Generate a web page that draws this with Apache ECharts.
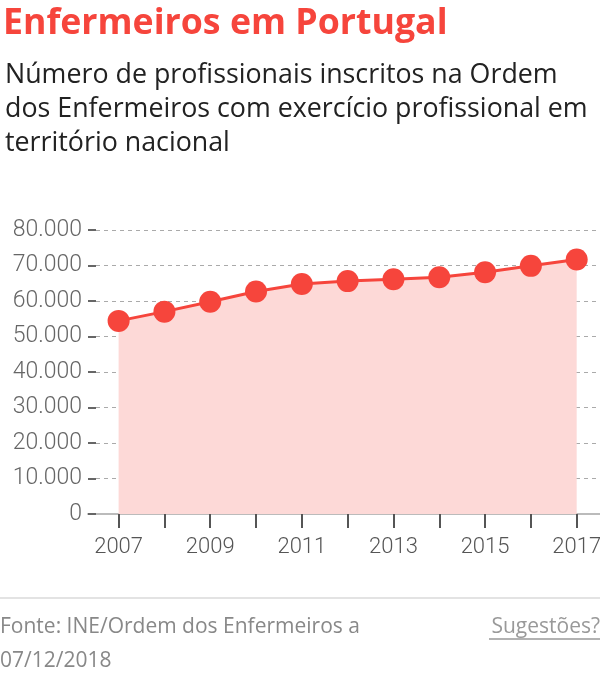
<!DOCTYPE html>
<html>
<head>
<meta charset="utf-8">
<script src="https://cdn.jsdelivr.net/npm/echarts@6/dist/echarts.min.js"></script>
<style>
html,body{margin:0;padding:0;background:#fff;}
#chart{width:600px;height:682px;}
</style>
</head>
<body>
<div id="chart"></div>
<script>
var years = [2007, 2008, 2009, 2010, 2011, 2012, 2013, 2014, 2015, 2016, 2017];
var nurses = [54400, 57000, 59800, 62700, 64800, 65600, 66100, 66700, 68100, 69900, 71700];
var yearLabels = [2007, 2009, 2011, 2013, 2015, 2017];

var titleText = 'Enfermeiros em Portugal';
var subtitleText = 'Número de profissionais inscritos na Ordem\ndos Enfermeiros com exercício profissional em\nterritório nacional';
var sourceText = 'Fonte: INE/Ordem dos Enfermeiros a\n07/12/2018';
var linkText = 'Sugestões?';

var RED = '#f6453c';
var chart = echarts.init(document.getElementById('chart'));
var fmt = function (v) {
  return String(v).replace(/\B(?=(\d{3})+(?!\d))/g, '.');
};
chart.setOption({
  animation: false,
  textStyle: { fontFamily: 'Roboto' },
  title: [
    { text: titleText, left: -2, top: 1,
      textStyle: { color: RED, fontSize: 35.7, fontWeight: 'bold', fontFamily: 'Open Sans' } },
    { text: subtitleText, left: 0, top: 53,
      textStyle: { color: '#222', fontSize: 26.8, fontWeight: 'normal', lineHeight: 34, fontFamily: 'Open Sans' } }
  ],
  grid: { left: 88, right: 0, top: 230, bottom: 168, containLabel: false, outerBoundsMode: 'none' },
  xAxis: {
    type: 'value',
    min: 2006.332,
    max: 2017.509,
    axisLine: { show: true, lineStyle: { color: '#bbb', width: 2 } },
    axisTick: { show: true, length: 14, lineStyle: { color: '#555', width: 2 }, customValues: years },
    axisLabel: { customValues: yearLabels, margin: 22, fontSize: 22, color: '#555', fontWeight: 300,
      formatter: function (v) { return String(v); } },
    splitLine: { show: false }
  },
  yAxis: {
    type: 'value',
    min: 0, max: 80000, interval: 10000,
    axisLine: { show: false },
    axisTick: { show: true, inside: true, length: 8, lineStyle: { color: '#666', width: 2 } },
    axisLabel: { margin: 6, fontSize: 23, color: '#666', fontWeight: 300, formatter: fmt },
    splitLine: { show: true, lineStyle: { color: '#aaa', type: [4, 4], width: 1 } }
  },
  series: [{
    type: 'line',
    data: years.map(function (y, i) { return [y, nurses[i]]; }),
    symbol: 'circle',
    symbolSize: 22,
    itemStyle: { color: RED },
    lineStyle: { color: RED, width: 3 },
    areaStyle: { color: '#fdd9d7', opacity: 1 },
    z: 3
  }],
  graphic: [
    { type: 'line', shape: { x1: 0, y1: 598, x2: 600, y2: 598 }, style: { stroke: '#e3e3e3', lineWidth: 2 } },
    { type: 'text', left: 0, top: 610,
      style: { text: sourceText, fill: '#888', font: '21px "Open Sans"', lineHeight: 34 } },
    { type: 'text', right: 0, top: 610,
      style: { text: linkText, fill: '#999', font: '21px "Open Sans"', lineHeight: 34 } },
    { type: 'line', shape: { x1: 489, y1: 639, x2: 600, y2: 639 }, style: { stroke: '#999', lineWidth: 1.5 } }
  ]
});
</script>
</body>
</html>
